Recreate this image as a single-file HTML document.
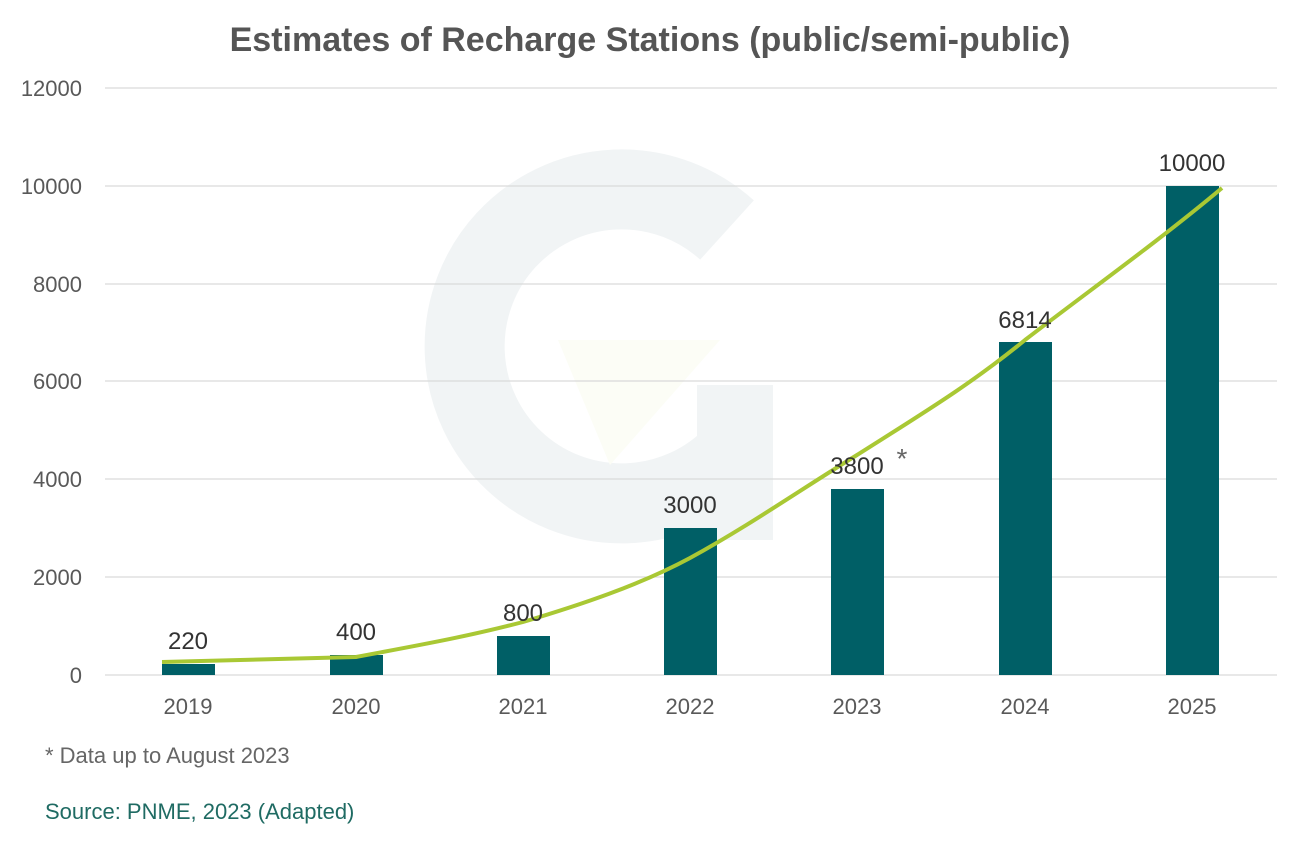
<!DOCTYPE html>
<html><head><meta charset="utf-8"><style>
html,body{margin:0;padding:0;background:#fff;}
svg{display:block;font-family:"Liberation Sans",sans-serif;}
</style></head><body>
<svg width="1299" height="841" viewBox="0 0 1299 841">
<g fill="none" stroke="#f1f4f5" stroke-width="80">
<path d="M727 230 A157 157 0 1 0 735 455"/>
</g>
<rect x="697" y="385" width="76" height="155" fill="#f1f4f5"/>
<polygon points="558,340 720,340 610,465" fill="#fcfdf6"/>
<g stroke="#d9d9d9" stroke-width="1.3">
<line x1="105" y1="88" x2="1277" y2="88"/>
<line x1="105" y1="186" x2="1277" y2="186"/>
<line x1="105" y1="284" x2="1277" y2="284"/>
<line x1="105" y1="381" x2="1277" y2="381"/>
<line x1="105" y1="479" x2="1277" y2="479"/>
<line x1="105" y1="577" x2="1277" y2="577"/>
<line x1="105" y1="675" x2="1277" y2="675"/>
</g>
<g fill="#595959" font-size="22" text-anchor="end">
<text x="82" y="96">12000</text>
<text x="82" y="194">10000</text>
<text x="82" y="292">8000</text>
<text x="82" y="389">6000</text>
<text x="82" y="487">4000</text>
<text x="82" y="585">2000</text>
<text x="82" y="683">0</text>
</g>
<g fill="#005f66">
<rect x="162" y="664" width="53" height="11"/>
<rect x="330" y="655" width="53" height="20"/>
<rect x="497" y="636" width="53" height="39"/>
<rect x="664" y="528" width="53" height="147"/>
<rect x="831" y="489" width="53" height="186"/>
<rect x="999" y="342" width="53" height="333"/>
<rect x="1166" y="186" width="53" height="489"/>
</g>
<path d="M162 662 L356 657 C420 645 470 636 523 622 C580 605 640 585 690 558 C750 525 800 490 857 455 C920 415 970 385 1025 340 C1090 290 1160 240 1222 188" fill="none" stroke="#a9c834" stroke-width="4"/>
<g fill="#333" font-size="24" text-anchor="middle">
<text x="188" y="649">220</text>
<text x="356" y="640">400</text>
<text x="523" y="621">800</text>
<text x="690" y="513">3000</text>
<text x="857" y="474">3800</text>
<text x="902" y="468" fill="#666" font-size="28">*</text>
<text x="1025" y="328">6814</text>
<text x="1192" y="171">10000</text>
</g>
<g fill="#595959" font-size="22" text-anchor="middle">
<text x="188" y="714">2019</text>
<text x="356" y="714">2020</text>
<text x="523" y="714">2021</text>
<text x="690" y="714">2022</text>
<text x="857" y="714">2023</text>
<text x="1025" y="714">2024</text>
<text x="1192" y="714">2025</text>
</g>
<text x="650" y="51" text-anchor="middle" font-size="34" font-weight="bold" fill="#555">Estimates of Recharge Stations (public/semi-public)</text>
<text x="45" y="763" font-size="22" fill="#666">* Data up to August 2023</text>
<text x="45" y="819" font-size="22" fill="#1f6b63">Source: PNME, 2023 (Adapted)</text>
</svg>
</body></html>
